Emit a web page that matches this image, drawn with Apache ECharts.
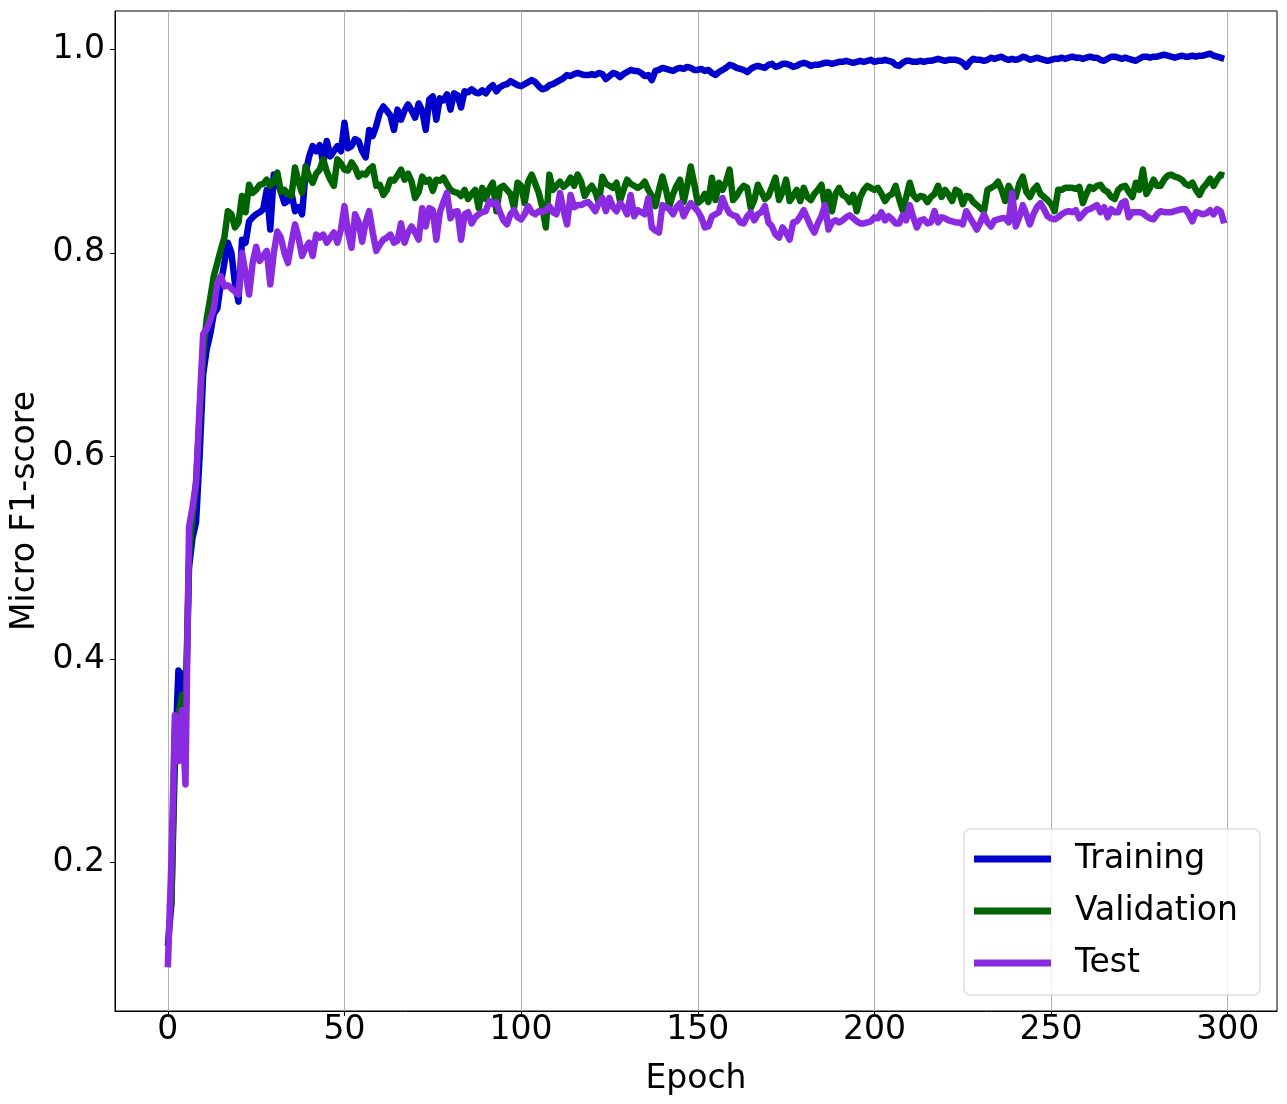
<!DOCTYPE html>
<html>
<head>
<meta charset="utf-8">
<script src="https://cdn.jsdelivr.net/npm/echarts@6/dist/echarts.min.js"></script>
<style>
  html, body { margin: 0; padding: 0; background: #fff; }
  #chart { width: 1287px; height: 1104px; }
</style>
</head>
<body>
<div id="chart"></div>
<script>
// Micro F1-score per epoch
const xTicks = [0, 50, 100, 150, 200, 250, 300];
const yTicks = [0.2, 0.4, 0.6, 0.8, 1.0];

const training = [
  0.118,0.16,0.30,0.389,0.385,0.34,0.49,0.52,0.535,0.60,
  0.68,0.705,0.72,0.74,0.745,0.77,0.79,0.81,0.80,0.77,
  0.752,0.813,0.81,0.831,0.835,0.838,0.84,0.843,0.862,0.823,
  0.877,0.87,0.86,0.849,0.851,0.859,0.841,0.845,0.838,0.879,
  0.895,0.905,0.9,0.906,0.888,0.91,0.895,0.90,0.905,0.9,
  0.928,0.903,0.905,0.912,0.91,0.9,0.894,0.921,0.915,0.925,
  0.938,0.944,0.94,0.935,0.921,0.941,0.931,0.94,0.946,0.94,
  0.933,0.947,0.94,0.921,0.951,0.954,0.931,0.952,0.95,0.956,
  0.941,0.957,0.955,0.943,0.959,0.958,0.961,0.958,0.957,0.96,
  0.957,0.962,0.965,0.959,0.963,0.965,0.966,0.969,0.967,0.965,
  0.964,0.966,0.968,0.97,0.968,0.964,0.961,0.962,0.965,0.966,
  0.968,0.97,0.972,0.975,0.974,0.976,0.977,0.976,0.975,0.975,
  0.976,0.975,0.977,0.976,0.971,0.974,0.977,0.976,0.973,0.976,
  0.978,0.98,0.979,0.979,0.977,0.974,0.975,0.97,0.979,0.98,
  0.982,0.981,0.98,0.979,0.981,0.982,0.981,0.983,0.982,0.98,
  0.98,0.981,0.979,0.98,0.977,0.975,0.978,0.98,0.982,0.985,
  0.984,0.982,0.981,0.98,0.978,0.981,0.983,0.984,0.983,0.982,
  0.985,0.986,0.983,0.984,0.986,0.986,0.985,0.983,0.984,0.986,
  0.987,0.986,0.984,0.985,0.985,0.986,0.987,0.987,0.986,0.987,
  0.988,0.988,0.989,0.988,0.987,0.988,0.989,0.988,0.989,0.99,
  0.988,0.989,0.989,0.99,0.989,0.988,0.985,0.984,0.987,0.989,
  0.989,0.988,0.988,0.989,0.988,0.989,0.989,0.99,0.991,0.99,
  0.989,0.99,0.99,0.99,0.989,0.987,0.983,0.988,0.991,0.99,
  0.99,0.989,0.99,0.992,0.991,0.992,0.993,0.991,0.99,0.991,
  0.99,0.991,0.993,0.992,0.99,0.991,0.992,0.991,0.99,0.989,
  0.99,0.991,0.991,0.992,0.991,0.992,0.993,0.992,0.992,0.991,
  0.992,0.993,0.992,0.992,0.99,0.989,0.991,0.993,0.993,0.992,
  0.991,0.992,0.991,0.99,0.989,0.991,0.993,0.993,0.992,0.993,
  0.993,0.994,0.995,0.994,0.993,0.992,0.993,0.994,0.993,0.993,
  0.994,0.993,0.994,0.994,0.995,0.996,0.994,0.993,0.992,0.991
];

const validation = [
  0.16,0.158,0.33,0.345,0.365,0.35,0.50,0.54,0.575,0.64,
  0.70,0.735,0.755,0.777,0.79,0.803,0.815,0.841,0.838,0.825,
  0.83,0.856,0.84,0.867,0.859,0.862,0.867,0.868,0.872,0.866,
  0.87,0.879,0.86,0.862,0.858,0.856,0.884,0.87,0.859,0.885,
  0.875,0.869,0.878,0.882,0.892,0.88,0.872,0.866,0.892,0.888,
  0.882,0.881,0.889,0.884,0.875,0.878,0.877,0.882,0.885,0.866,
  0.867,0.857,0.862,0.872,0.871,0.876,0.882,0.872,0.878,0.87,
  0.854,0.86,0.875,0.87,0.872,0.861,0.872,0.871,0.874,0.868,
  0.862,0.86,0.859,0.856,0.862,0.853,0.858,0.862,0.844,0.864,
  0.853,0.863,0.869,0.841,0.864,0.866,0.862,0.858,0.844,0.869,
  0.866,0.849,0.87,0.877,0.868,0.859,0.845,0.825,0.877,0.862,
  0.866,0.87,0.865,0.868,0.874,0.866,0.877,0.87,0.856,0.862,
  0.866,0.86,0.849,0.875,0.868,0.866,0.864,0.869,0.851,0.862,
  0.872,0.868,0.866,0.864,0.866,0.87,0.862,0.856,0.846,0.862,
  0.875,0.862,0.846,0.858,0.866,0.872,0.85,0.866,0.885,0.868,
  0.849,0.852,0.858,0.85,0.874,0.852,0.869,0.862,0.87,0.882,
  0.852,0.856,0.862,0.866,0.864,0.844,0.852,0.867,0.86,0.853,
  0.856,0.865,0.874,0.852,0.86,0.872,0.851,0.856,0.862,0.851,
  0.864,0.855,0.852,0.858,0.862,0.867,0.847,0.86,0.841,0.858,
  0.864,0.857,0.855,0.85,0.857,0.841,0.855,0.862,0.866,0.864,
  0.862,0.864,0.858,0.851,0.856,0.858,0.866,0.853,0.842,0.855,
  0.869,0.857,0.853,0.856,0.855,0.85,0.855,0.858,0.866,0.855,
  0.862,0.857,0.851,0.862,0.86,0.848,0.856,0.855,0.85,0.847,
  0.844,0.841,0.862,0.864,0.866,0.87,0.862,0.851,0.866,0.859,
  0.855,0.868,0.875,0.86,0.855,0.862,0.866,0.858,0.855,0.852,
  0.848,0.841,0.862,0.862,0.864,0.864,0.864,0.863,0.865,0.849,
  0.858,0.865,0.863,0.866,0.867,0.862,0.86,0.855,0.853,0.862,
  0.865,0.866,0.86,0.855,0.869,0.862,0.882,0.858,0.864,0.872,
  0.866,0.866,0.872,0.876,0.877,0.875,0.874,0.872,0.868,0.866,
  0.869,0.862,0.857,0.864,0.868,0.873,0.866,0.872,0.877,0.876
];

const test = [
  0.097,0.2,0.345,0.3,0.35,0.277,0.53,0.55,0.574,0.65,
  0.72,0.725,0.734,0.745,0.77,0.777,0.767,0.768,0.765,0.762,
  0.759,0.80,0.78,0.759,0.79,0.806,0.792,0.797,0.802,0.769,
  0.80,0.821,0.815,0.80,0.79,0.81,0.828,0.815,0.797,0.805,
  0.81,0.797,0.818,0.815,0.818,0.81,0.815,0.82,0.81,0.823,
  0.846,0.82,0.805,0.838,0.83,0.811,0.83,0.841,0.82,0.802,
  0.808,0.813,0.815,0.818,0.81,0.812,0.829,0.81,0.82,0.826,
  0.82,0.813,0.844,0.826,0.844,0.842,0.813,0.84,0.85,0.859,
  0.834,0.84,0.841,0.813,0.838,0.84,0.829,0.835,0.838,0.84,
  0.841,0.851,0.848,0.85,0.84,0.832,0.828,0.838,0.842,0.835,
  0.833,0.838,0.846,0.84,0.838,0.841,0.84,0.842,0.846,0.84,
  0.838,0.859,0.842,0.828,0.857,0.845,0.847,0.847,0.849,0.85,
  0.846,0.841,0.849,0.854,0.841,0.854,0.845,0.841,0.849,0.845,
  0.838,0.857,0.836,0.842,0.84,0.838,0.854,0.825,0.822,0.82,
  0.847,0.845,0.843,0.838,0.845,0.849,0.836,0.843,0.849,0.845,
  0.841,0.835,0.825,0.826,0.836,0.838,0.84,0.854,0.845,0.839,
  0.837,0.836,0.83,0.829,0.836,0.84,0.832,0.838,0.84,0.846,
  0.83,0.826,0.818,0.815,0.825,0.82,0.813,0.83,0.831,0.836,
  0.842,0.834,0.826,0.82,0.829,0.836,0.847,0.823,0.83,0.832,
  0.83,0.832,0.835,0.837,0.834,0.831,0.829,0.829,0.83,0.831,
  0.835,0.834,0.84,0.832,0.836,0.833,0.829,0.829,0.837,0.832,
  0.847,0.835,0.825,0.832,0.833,0.829,0.83,0.841,0.83,0.835,
  0.834,0.832,0.831,0.83,0.83,0.828,0.841,0.835,0.829,0.823,
  0.83,0.838,0.83,0.826,0.832,0.833,0.834,0.834,0.83,0.859,
  0.826,0.835,0.847,0.838,0.828,0.838,0.845,0.849,0.843,0.836,
  0.834,0.833,0.835,0.838,0.84,0.841,0.84,0.842,0.834,0.838,
  0.842,0.843,0.845,0.847,0.84,0.845,0.835,0.843,0.84,0.84,
  0.849,0.851,0.835,0.84,0.84,0.84,0.839,0.836,0.834,0.833,
  0.838,0.841,0.84,0.84,0.84,0.841,0.842,0.843,0.843,0.838,
  0.831,0.84,0.839,0.838,0.839,0.842,0.838,0.843,0.841,0.829
];

const seriesNames = ['Training', 'Validation', 'Test'];
const seriesColors = ['#0000CD', '#006400', '#8A2BE2'];
const seriesData = [training, validation, test];

const FONT = 'DejaVu Sans';
const chart = echarts.init(document.getElementById('chart'), null, { renderer: 'canvas' });

const toPairs = arr => arr.map((v, i) => [i, v]);

chart.setOption({
  animation: false,
  backgroundColor: '#fff',
  textStyle: { fontFamily: FONT },
  grid: {
    left: 115, top: 11, width: 1162, height: 1000,
    show: true, borderColor: '#000', borderWidth: 1,
    backgroundColor: 'transparent'
  },
  legend: {
    orient: 'vertical',
    left: 964, top: 829,
    icon: 'rect',
    itemWidth: 77, itemHeight: 7,
    itemGap: 12,
    padding: [10, 22, 12, 10],
    backgroundColor: 'rgba(255,255,255,0.8)',
    borderColor: '#cccccc', borderWidth: 1, borderRadius: 6,
    textStyle: { fontFamily: FONT, fontSize: 33, color: '#000', lineHeight: 40, padding: [0, 0, 0, 19] },
    data: seriesNames
  },
  xAxis: {
    type: 'value',
    min: -14.95, max: 313.95,
    name: 'Epoch',
    nameLocation: 'middle',
    nameGap: 52,
    nameTextStyle: { fontFamily: FONT, fontSize: 33, color: '#000' },
    axisLine: { show: true, onZero: false, lineStyle: { color: '#000', width: 1 } },
    axisTick: { show: true, length: 5, lineStyle: { color: '#000' }, customValues: xTicks },
    axisLabel: { fontFamily: FONT, fontSize: 33, color: '#000', margin: 3, customValues: xTicks },
    splitLine: { show: true, lineStyle: { color: '#b0b0b0', width: 1 } }
  },
  yAxis: {
    type: 'value',
    min: 0.054, max: 1.038,
    name: 'Micro F1-score',
    nameLocation: 'middle',
    nameGap: 69,
    nameTextStyle: { fontFamily: FONT, fontSize: 33, color: '#000' },
    axisLine: { show: true, onZero: false, lineStyle: { color: '#000', width: 1 } },
    axisTick: { show: true, length: 5, lineStyle: { color: '#000' }, customValues: yTicks },
    axisLabel: {
      fontFamily: FONT, fontSize: 33, color: '#000', margin: 10,
      customValues: yTicks,
      formatter: v => v.toFixed(1)
    },
    splitLine: { show: false }
  },
  series: seriesNames.map((name, k) => ({
    name: name,
    type: 'line',
    data: toPairs(seriesData[k]),
    showSymbol: false,
    symbol: 'none',
    color: seriesColors[k],
    lineStyle: { color: seriesColors[k], width: 6.5, join: 'round', cap: 'butt' },
    emphasis: { disabled: true }
  }))
});
</script>
</body>
</html>
